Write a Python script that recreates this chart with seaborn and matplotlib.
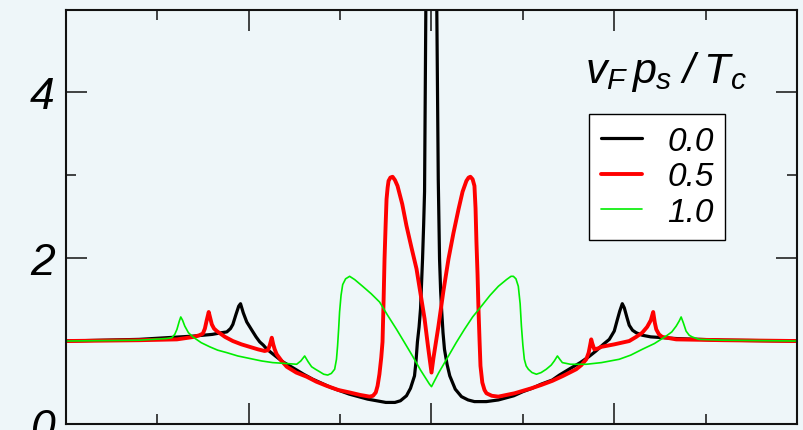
import numpy as np
import pandas as pd
import matplotlib
matplotlib.use("Agg")
import matplotlib.pyplot as plt
from matplotlib.lines import Line2D
import seaborn as sns

# ---------------- data ----------------
series_labels = ["0.0", "0.5", "1.0"]
series_colors = ["#000000", "#ff0000", "#00ee00"]

x_black = [-2.0, -1.6, -1.3, -1.2, -1.15, -1.12, -1.10, -1.087, -1.07, -1.055, -1.045,
           -1.03, -1.011, -0.98, -0.96, -0.94, -0.92, -0.9, -0.86, -0.814, -0.76, -0.7,
           -0.65, -0.6, -0.55, -0.5, -0.45, -0.4, -0.35, -0.3, -0.25, -0.2, -0.17, -0.137,
           -0.115, -0.093, -0.085, -0.077, -0.068, -0.06, -0.049, -0.043, -0.038, -0.031,
           -0.02, -0.01, 0.0, 0.01, 0.02, 0.029, 0.037, 0.044, 0.05, 0.055, 0.063, 0.071,
           0.085, 0.1, 0.13, 0.164, 0.2, 0.235, 0.3, 0.366, 0.45, 0.5, 0.55, 0.6, 0.661,
           0.7, 0.76, 0.814, 0.86, 0.9, 0.94, 0.973, 1.0, 1.016, 1.03, 1.044, 1.055, 1.07,
           1.082, 1.1, 1.12, 1.153, 1.2, 1.339, 1.6, 2.0]
y_black = [1.0, 1.02, 1.06, 1.08, 1.10, 1.11, 1.15, 1.20, 1.32, 1.42, 1.45,
           1.34, 1.23, 1.12, 1.05, 0.99, 0.95, 0.90, 0.83, 0.75, 0.68, 0.60,
           0.54, 0.49, 0.44, 0.40, 0.36, 0.33, 0.30, 0.28, 0.26, 0.26, 0.28, 0.34,
           0.43, 0.58, 0.75, 0.99, 1.17, 1.39, 1.99, 2.4, 2.8, 5.0,
           9.0, 13.0, 15.0, 13.0, 9.0, 5.0, 2.95, 1.99, 1.6, 1.39, 1.1, 0.90,
           0.72, 0.58, 0.42, 0.33, 0.29, 0.27, 0.27, 0.29, 0.34, 0.39, 0.43, 0.48, 0.53,
           0.59, 0.67, 0.74, 0.81, 0.88, 0.96, 1.02, 1.12, 1.25, 1.36, 1.45, 1.40, 1.28,
           1.19, 1.13, 1.10, 1.07, 1.05, 1.03, 1.01, 1.0]

x_red = [-2.0, -1.6, -1.393, -1.3, -1.27, -1.251, -1.24, -1.23, -1.219, -1.21, -1.202,
         -1.19, -1.175, -1.13, -1.087, -1.04, -0.995, -0.95, -0.913, -0.895, -0.885,
         -0.874, -0.866, -0.858, -0.847, -0.82, -0.792, -0.74, -0.683, -0.63, -0.574,
         -0.51, -0.448, -0.39, -0.339, -0.32, -0.305, -0.295, -0.285, -0.275, -0.268,
         -0.262, -0.257, -0.251, -0.246, -0.24, -0.235, -0.225, -0.213, -0.2, -0.186,
         -0.16, -0.137, -0.11, -0.082, -0.06, -0.038, -0.02, -0.011, 0.0, 0.011, 0.038,
         0.065, 0.093, 0.12, 0.148, 0.17, 0.191, 0.203, 0.213, 0.225, 0.235, 0.241,
         0.246, 0.252, 0.257, 0.263, 0.268, 0.278, 0.29, 0.301, 0.33, 0.366, 0.41,
         0.454, 0.5, 0.546, 0.6, 0.661, 0.72, 0.792, 0.82, 0.847, 0.86, 0.868, 0.874,
         0.88, 0.891, 0.91, 0.93, 1.0, 1.082, 1.12, 1.153, 1.18, 1.2, 1.213, 1.222,
         1.23, 1.245, 1.262, 1.339, 1.6, 2.0]
y_red = [1.0, 1.01, 1.02, 1.05, 1.07, 1.09, 1.15, 1.25, 1.35, 1.27, 1.20,
         1.15, 1.12, 1.05, 1.0, 0.96, 0.93, 0.90, 0.88, 0.89, 0.95,
         1.04, 0.96, 0.90, 0.84, 0.76, 0.69, 0.62, 0.57, 0.51, 0.46,
         0.41, 0.38, 0.35, 0.33, 0.34, 0.38, 0.46, 0.60, 0.80, 0.99,
         1.5, 1.99, 2.4, 2.71, 2.85, 2.93, 2.97, 2.98, 2.94, 2.87,
         2.65, 2.39, 2.13, 1.87, 1.57, 1.27, 0.95, 0.80, 0.62, 0.80, 1.18,
         1.6, 1.99, 2.3, 2.59, 2.8, 2.93, 2.97, 2.98, 2.95, 2.87, 2.6,
         2.19, 1.8, 1.39, 1.0, 0.70, 0.50, 0.41, 0.37, 0.34, 0.33, 0.35,
         0.37, 0.40, 0.43, 0.47, 0.52, 0.58, 0.66, 0.71, 0.78, 0.86, 0.95, 1.02,
         0.97, 0.90, 0.91, 0.93, 0.96, 1.00, 1.05, 1.10, 1.17, 1.25, 1.35, 1.22,
         1.14, 1.08, 1.05, 1.02, 1.01, 1.0]

x_green = [-2.0, -1.6, -1.45, -1.421, -1.405, -1.393, -1.38, -1.372, -1.362, -1.35, -1.33,
           -1.306, -1.26, -1.213, -1.17, -1.12, -1.06, -0.995, -0.93, -0.869, -0.8, -0.738,
           -0.715, -0.694, -0.675, -0.656, -0.635, -0.612, -0.59, -0.568, -0.548, -0.53,
           -0.52, -0.514, -0.508, -0.503, -0.495, -0.486, -0.47, -0.448, -0.42, -0.377,
           -0.33, -0.284, -0.24, -0.191, -0.15, -0.104, -0.06, -0.011, 0.0, 0.04, 0.093,
           0.135, 0.18, 0.225, 0.273, 0.32, 0.366, 0.41, 0.435, 0.448, 0.462, 0.475, 0.485,
           0.492, 0.5, 0.508, 0.518, 0.53, 0.55, 0.574, 0.6, 0.628, 0.655, 0.672, 0.689,
           0.702, 0.716, 0.76, 0.847, 0.93, 1.027, 1.09, 1.153, 1.22, 1.284, 1.315, 1.339,
           1.355, 1.366, 1.378, 1.393, 1.41, 1.426, 1.464, 1.6, 2.0]
y_green = [1.0, 1.01, 1.03, 1.04, 1.08, 1.14, 1.24, 1.29, 1.25, 1.18, 1.10,
           1.05, 0.98, 0.93, 0.89, 0.86, 0.82, 0.79, 0.76, 0.74, 0.73, 0.72,
           0.76, 0.82, 0.75, 0.69, 0.66, 0.63, 0.60, 0.59, 0.61, 0.66,
           0.78, 0.94, 1.15, 1.35, 1.55, 1.68, 1.75, 1.78, 1.74, 1.66,
           1.57, 1.47, 1.31, 1.14, 0.99, 0.82, 0.65, 0.48, 0.45, 0.62, 0.82,
           0.98, 1.14, 1.29, 1.42, 1.55, 1.66, 1.74, 1.78, 1.78, 1.75, 1.66, 1.45,
           1.18, 0.95, 0.78, 0.70, 0.66, 0.62, 0.60, 0.62, 0.66, 0.71, 0.76, 0.82,
           0.78, 0.74, 0.72, 0.72, 0.74, 0.78, 0.83, 0.90, 0.97, 1.06, 1.11, 1.18,
           1.24, 1.29, 1.22, 1.12, 1.07, 1.05, 1.02, 1.01, 1.0]

y_ticks = [0, 2, 4]
y_tick_labels = ["0", "2", "4"]

# ---------------- figure ----------------
sns.set_style("ticks")
plt.rcParams["font.family"] = ["Liberation Sans", "DejaVu Sans"]
plt.rcParams["mathtext.fontset"] = "custom"
plt.rcParams["mathtext.it"] = "Liberation Sans:italic"
plt.rcParams["mathtext.rm"] = "Liberation Sans:italic"

bg = "#eef6f9"
fig = plt.figure(figsize=(8.04, 4.31), dpi=100, facecolor=bg)
ax = fig.add_axes([66 / 804, (431 - 425) / 431, (797 - 66) / 804, (425 - 11) / 431])
ax.set_facecolor(bg)

frames = []
for lab, xs, ys in zip(series_labels, [x_black, x_red, x_green], [y_black, y_red, y_green]):
    frames.append(pd.DataFrame({"x": xs, "y": ys, "series": lab}))
df = pd.concat(frames, ignore_index=True)

widths = {"0.0": 2.3, "0.5": 2.8, "1.0": 1.2}
for lab, col in zip(series_labels, series_colors):
    sub = df[df["series"] == lab]
    sns.lineplot(data=sub, x="x", y="y", ax=ax, color=col, lw=widths[lab],
                 estimator=None, sort=False, legend=False)
for ln in ax.get_lines():
    ln.set_solid_joinstyle("round")

ax.set_xlim(-2.0, 2.0)
ax.set_ylim(0, 4.99)
ax.set_xlabel("")
ax.set_ylabel("")

ax.set_xticks([-2, -1, 0, 1, 2])
ax.set_xticks([-1.5, -0.5, 0.5, 1.5], minor=True)
ax.set_yticks(y_ticks)
ax.set_yticks([1, 3], minor=True)
ax.set_yticklabels(y_tick_labels, fontsize=32, style="italic", color="black")
ax.tick_params(axis="both", which="major", direction="in", length=15, width=1.1,
               top=True, right=True, bottom=True, left=True, labelbottom=False, pad=8,
               color="#111111", labelcolor="black")
ax.tick_params(axis="both", which="minor", direction="in", length=7, width=1.1,
               top=True, right=True, bottom=True, left=True, color="#111111")
for sp in ax.spines.values():
    sp.set_linewidth(1.5)
    sp.set_color("#111111")
    sp.set_visible(True)

handles = [Line2D([0], [0], color=c, lw=widths[l]) for l, c in zip(series_labels, series_colors)]
leg = ax.legend(handles, series_labels, loc="upper left",
                bbox_to_anchor=(589 / 804, 1 - 115 / 431), bbox_transform=fig.transFigure,
                borderaxespad=0, frameon=True, fancybox=False, framealpha=1,
                edgecolor="black", facecolor="white", handlelength=1.25,
                handletextpad=0.75, labelspacing=0.14, borderpad=0.35,
                prop={"family": "Liberation Sans", "style": "italic", "size": 24})
leg.get_frame().set_linewidth(1.0)
for t in leg.get_texts():
    t.set_color("black")

fig.text(666 / 804, 1 - 83 / 431, r"$v_F\,p_s\;\mathit{/}\;T_c$", ha="center",
         va="baseline", fontsize=31, color="black")

fig.savefig("out.png", dpi=100, facecolor=bg)
